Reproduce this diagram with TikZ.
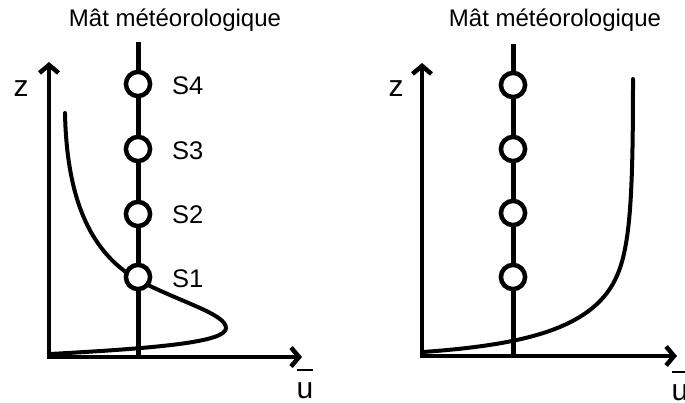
\documentclass[tikz,border=0pt]{standalone}
\usepackage{fontspec}
\setmainfont{Liberation Sans}
\usetikzlibrary{arrows.meta}
\begin{document}
\begin{tikzpicture}[x=1pt,y=-1pt,
  lbl/.style={inner sep=0pt,font=\fontsize{25.5}{30}\selectfont},
  ttl/.style={inner sep=0pt,font=\fontsize{24}{28}\selectfont},
  axlbl/.style={inner sep=0pt,font=\fontsize{30}{34}\selectfont},
  axis/.style={line width=4.5pt,line join=miter,{Straight Barb[length=8pt,width=19pt]}-{Straight Barb[length=8pt,width=19pt]}},
  mastline/.style={line width=5pt},
  sensor/.style={circle,draw,fill=white,line width=4.5pt,minimum size=24.2pt,inner sep=0pt},
  profile/.style={line width=4pt,line cap=round}]
\useasboundingbox (0,0) rectangle (685,403);

% ---------------- left panel ----------------
\node[ttl,anchor=base] (Ltitle) at (175,27) {Mât météorologique};
\coordinate (LZ) at (49,62);
\coordinate (LO) at (49,357);
\coordinate (LX) at (302,357);
\coordinate (Lmtop) at (138,42);
\coordinate (Lmbot) at (138,357);
\draw[profile] (65,113) .. controls (67,215) and (100,258) .. (138,280)
  .. controls (180,302) and (226,314) .. (226,328)
  .. controls (226,342) and (160,348) .. (50,354);
\draw[mastline] (Lmtop) -- (Lmbot);
\draw[axis] (LZ) -- (LO) -- (LX);
\node[sensor] (L4) at (138,84) {};
\node[sensor] (L3) at (138,149) {};
\node[sensor] (L2) at (138,214) {};
\node[sensor] (L1) at (138,277) {};
\node[lbl,anchor=west] (S4) at (172,86) {S4};
\node[lbl,anchor=west] (S3) at (172,151) {S3};
\node[lbl,anchor=west] (S2) at (172,215) {S2};
\node[lbl,anchor=west] (S1) at (172,279) {S1};
\node[axlbl] (Lz) at (21,89) {z};
\node[axlbl,anchor=base] (Lu) at (305,398) {u};
\draw[line width=2.5pt] (297,370) -- (313,370);

% ---------------- right panel ----------------
\node[ttl,anchor=base] (Rtitle) at (555,27) {Mât météorologique};
\coordinate (RZ) at (422,63);
\coordinate (RO) at (422,356);
\coordinate (RX) at (677,356);
\coordinate (Rmtop) at (513,44);
\coordinate (Rmbot) at (513,356);
\draw[profile] (423,352) .. controls (520,345) and (590,330) .. (615,280)
  .. controls (630,250) and (633,200) .. (633,79);
\draw[mastline] (Rmtop) -- (Rmbot);
\draw[axis] (RZ) -- (RO) -- (RX);
\node[sensor] (R4) at (513,85) {};
\node[sensor] (R3) at (513,149) {};
\node[sensor] (R2) at (513,213) {};
\node[sensor] (R1) at (513,277) {};
\node[axlbl] (Rz) at (396,89) {z};
\node[axlbl,anchor=base] (Ru) at (680,400) {u};
\draw[line width=2.5pt] (672,372) -- (688,372);
\end{tikzpicture}
\end{document}
